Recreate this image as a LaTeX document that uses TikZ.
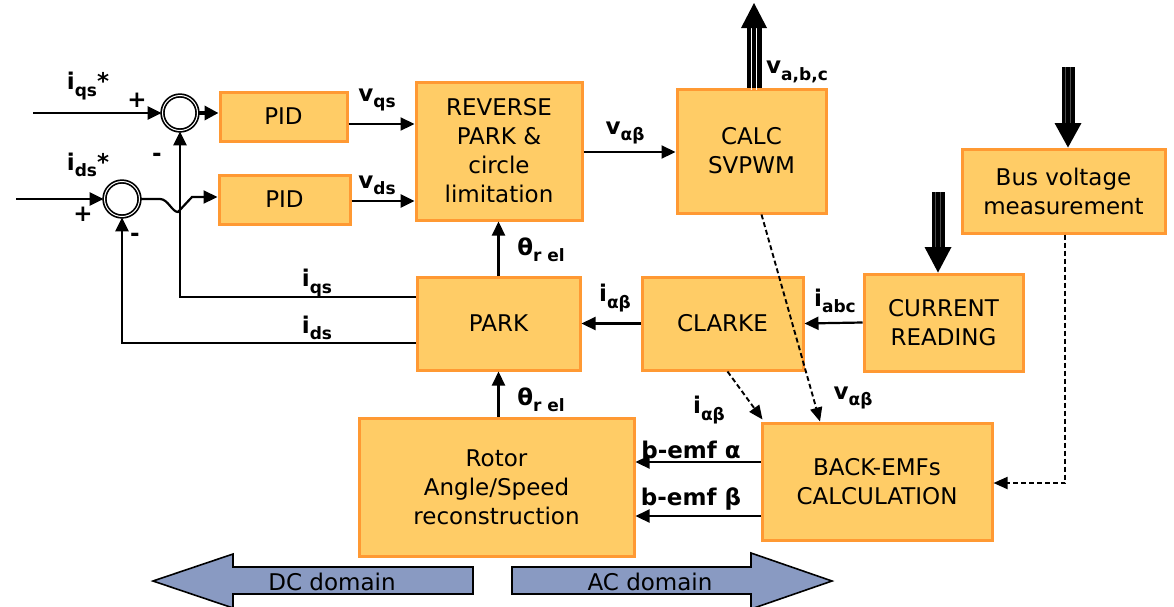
\documentclass[tikz,border=0pt]{standalone}
\usepackage{fontspec}
\setmainfont{DejaVu Sans}
\usetikzlibrary{arrows.meta,calc}

\definecolor{boxfill}{RGB}{255,204,102}
\definecolor{boxline}{RGB}{255,153,51}
\definecolor{domainfill}{RGB}{137,154,194}

% signal name with a bold subscript
\newcommand\sig[2]{\textbf{#1}\raisebox{-0.5ex}{\fontsize{17}{17}\selectfont\bfseries #2}}

\tikzset{
  blk/.style={fill=boxfill, draw=boxline, line width=3pt, inner sep=0pt,
    align=center, font=\fontsize{23}{29}\selectfont},
  sumj/.style={circle, draw, line width=1.7pt, double, double distance=1pt,
    minimum size=35pt, inner sep=0pt},
  arr/.style={line width=2.2pt, -{Triangle[length=14pt,width=13pt]}},
  arrbold/.style={line width=3.4pt, -{Triangle[length=14pt,width=14pt]}},
  dsh/.style={line width=1.9pt, dash pattern=on 5pt off 3pt, -{Triangle[length=14pt,width=12pt]}},
  lbl/.style={font=\fontsize{23}{26}\selectfont\bfseries, inner sep=0pt},
  domarrow/.style={fill=domainfill, draw=black, line width=1.6pt, line join=miter},
}

\begin{document}
\begin{tikzpicture}[x=1pt,y=-1pt]
\useasboundingbox (0,0) rectangle (1174,606);
\fill[white] (0,0) rectangle (1174,606);

% blocks
\node[blk, minimum width=127pt, minimum height=49pt] (pid1) at (283.5,116.5) {PID};
\node[blk, minimum width=131pt, minimum height=49pt] (pid2) at (284.5,199.5) {PID};
\node[blk, minimum width=166pt, minimum height=138pt] (rpark) at (499,151) {REVERSE\\PARK \&\\circle\\limitation};
\node[blk, minimum width=149pt, minimum height=124pt] (svpwm) at (751.5,151) {CALC\\SVPWM};
\node[blk, minimum width=203pt, minimum height=84pt] (bus) at (1063.5,191) {Bus voltage\\measurement};
\node[blk, minimum width=159pt, minimum height=97pt] (cur) at (943.5,322.5) {CURRENT\\READING};
\node[blk, minimum width=161pt, minimum height=93pt] (clarke) at (722.5,323.5) {CLARKE};
\node[blk, minimum width=163pt, minimum height=93pt] (park) at (498.5,323.5) {PARK};
\node[blk, minimum width=275pt, minimum height=138pt] (rotor) at (496.5,487) {Rotor\\Angle/Speed\\reconstruction};
\node[blk, minimum width=230pt, minimum height=117pt] (bemf) at (877,481.5) {BACK-EMFs\\CALCULATION};

% summing junctions
\node[sumj] (s1) at (180,113) {};
\node[sumj] (s2) at (122,199) {};

% references
\coordinate (iqsin) at (33,113);
\coordinate (idsin) at (16,199);
\draw[arr] (iqsin) -- (s1.west);
\draw[arr] (idsin) -- (s2.west);
\node[lbl] (lqsref) at (88,86) {\sig{i}{qs}*};
\node[lbl] (ldsref) at (88,165) {\sig{i}{ds}*};
\node[lbl] (p1) at (137,100) {+};
\node[lbl] (p2) at (83,214) {+};
\node[lbl] (m1) at (157,157) {-};
\node[lbl] (m2) at (135,237) {-};

% errors into the controllers
\draw[arrbold] (s1.east) -- (s1.east -| pid1.west);
\draw[arr] (s2.east) -- (160,199) .. controls (168,199) and (172,212) .. (178,212)
  -- (192,197) -- (pid2.west |- 0,197);

% feedback currents
\draw[arr] (park.west |- 0,297) -| (s1.south);
\draw[arr] (park.west |- 0,343) -| (s2.south);
\node[lbl] (liqs) at (317,283) {\sig{i}{qs}};
\node[lbl] (lids) at (317,328) {\sig{i}{ds}};

% controller outputs
\draw[arr] (pid1.east |- 0,124) -- (rpark.west |- 0,124);
\draw[arr, line width=2.8pt] (pid2.east |- 0,201) -- (rpark.west |- 0,201);
\node[lbl] (lvqs) at (377,100) {\sig{v}{qs}};
\node[lbl] (lvds) at (377,185) {\sig{v}{ds}};

\draw[arr] (rpark.east |- 0,152) -- (svpwm.west |- 0,152);
\node[lbl] (lvab) at (625,133) {\sig{v}{αβ}};

% inverter voltages out
\coordinate (vout) at (754,3);
\draw[line width=15pt] (svpwm.north -| vout) -- (754,27);
\draw[white, line width=1.3pt] (751.5,90) -- (751.5,26) (756.5,90) -- (756.5,26);
\fill (741,28) -- (vout) -- (767,28) -- cycle;
\node[lbl] (lvabc) at (797,72) {\sig{v}{a,b,c}};

% measurement inputs
\coordinate (busin) at (1068,67);
\draw[line width=13pt] (busin) -- (1068,125);
\draw[black!70, line width=1.2pt] (1065.5,67) -- (1065.5,124) (1070.5,67) -- (1070.5,124);
\fill (1054.5,123) -- (bus.north -| busin) -- (1081.5,123) -- cycle;

\coordinate (curin) at (938,192);
\draw[line width=13pt] (curin) -- (938,249);
\draw[black!70, line width=1.2pt] (935.5,192) -- (935.5,248) (940.5,192) -- (940.5,248);
\fill (924.5,247) -- (cur.north -| curin) -- (951.5,247) -- cycle;

% transforms
\draw[arr] (cur.west) -- (clarke.east);
\node[lbl] (liabc) at (835,301) {\sig{i}{abc}};
\draw[arr] (clarke.west) -- (park.east);
\node[lbl] (liab) at (615,298) {\sig{i}{αβ}};
\draw[arr] (park.north) -- (park.north |- rpark.south);
\node[lbl] (lth1) at (541,250) {θ\raisebox{-0.5ex}{\fontsize{17}{17}\selectfont\bfseries r el}};
\draw[arr] (park.south |- rotor.north) -- (park.south);
\node[lbl] (lth2) at (541,400) {θ\raisebox{-0.5ex}{\fontsize{17}{17}\selectfont\bfseries r el}};

% back-EMF estimation
\draw[arr] (bemf.west |- 0,462) -- (rotor.east |- 0,462);
\draw[arr] (bemf.west |- 0,516) -- (rotor.east |- 0,516);
\node[lbl] (lea) at (691,450) {b-emf α};
\node[lbl] (leb) at (691,499) {b-emf β};

\draw[dsh] ($(svpwm.south)+(10,0)$) -- (bemf.north -| 820,0);
\node[lbl] (lvab2) at (853,398) {\sig{v}{αβ}};
\draw[dsh] ($(clarke.south)+(5,0)$) -- ($(bemf.north west)+(2,-2)$);
\node[lbl] (liab2) at (709,410) {\sig{i}{αβ}};
\draw[dsh] (bus.south -| 1065,0) |- (bemf.east |- 0,483);

% domain arrows
\draw[domarrow] (153,581) -- (233,554) -- (233,567) -- (473,567) -- (473,594)
  -- (233,594) -- (233,608) -- cycle;
\node[font=\fontsize{23}{26}\selectfont] (dc) at (332,582) {DC domain};
\draw[domarrow] (512,567) -- (751,567) -- (751,553) -- (832,581) -- (751,609)
  -- (751,594) -- (512,594) -- cycle;
\node[font=\fontsize{23}{26}\selectfont] (ac) at (650,582) {AC domain};
\end{tikzpicture}
\end{document}
